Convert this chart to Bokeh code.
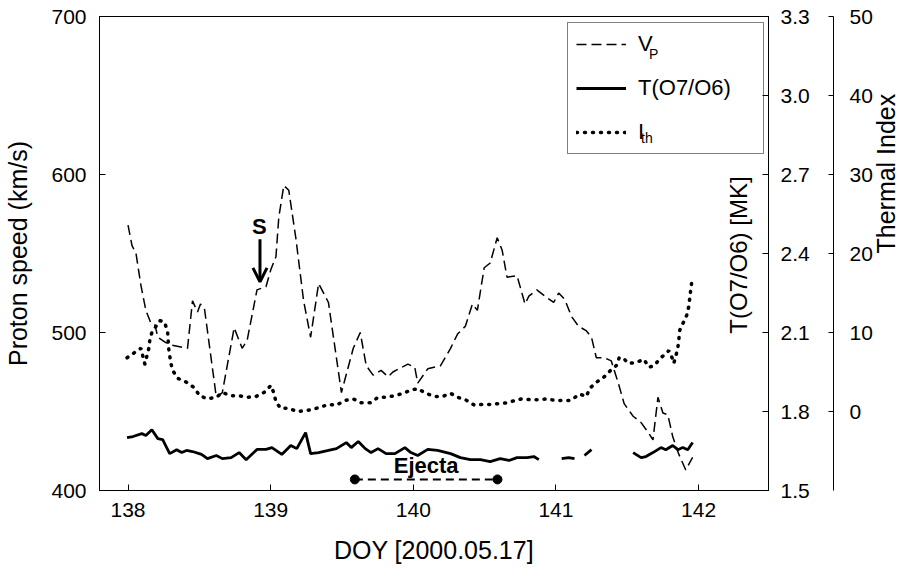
import math
from bokeh.plotting import figure
from bokeh.models import (Range1d, LinearAxis, FixedTicker, Legend, LegendItem,
                          Label, Arrow, OpenHead, PrintfTickFormatter)
from bokeh.embed import file_html
from bokeh.resources import INLINE

nan = float("nan")

# ---------------- data ----------------
vp_doy = [138.000, 138.028, 138.056, 138.090, 138.125, 138.160, 138.188, 138.209, 138.257, 138.306,
          138.417, 138.452, 138.487, 138.508, 138.536, 138.619, 138.661, 138.744, 138.800, 138.835,
          138.904, 138.967, 139.002, 139.037, 139.057, 139.092, 139.127, 139.176, 139.231, 139.280,
          139.336, 139.405, 139.496, 139.579, 139.628, 139.670, 139.718, 139.774, 139.823, 139.857,
          139.962, 140.010, 140.031, 140.101, 140.191, 140.261, 140.310, 140.365, 140.414, 140.449,
          140.497, 140.539, 140.588, 140.623, 140.657, 140.727, 140.783, 140.810, 140.866, 140.922,
          140.984, 141.019, 141.061, 141.110, 141.158, 141.214, 141.249, 141.283, 141.339, 141.388,
          141.437, 141.478, 141.541, 141.597, 141.652, 141.680, 141.715, 141.750, 141.784, 141.819,
          141.861, 141.910, 141.958]
vp_speed = [568, 555, 550, 530, 514, 506, 505, 497, 494, 492,
            490, 520, 513, 518, 515, 459, 462, 503, 490, 495,
            527, 529, 540, 548, 573, 593, 590, 560, 520, 497,
            531, 519, 462, 490, 500, 479, 473, 476, 472, 475,
            480, 478, 468, 477, 479, 490, 499, 504, 518, 514,
            541, 544, 560, 552, 535, 536, 518, 523, 527, 523,
            519, 525, 521, 510, 504, 501, 497, 484, 484, 482,
            468, 455, 447, 443, 436, 432, 459, 449, 448, 434,
            423, 413, 421]

t_doy = [137.993, 138.035, 138.097, 138.125, 138.167, 138.209, 138.243, 138.292, 138.341, 138.376,
         138.410, 138.452, 138.515, 138.557, 138.619, 138.661, 138.723, 138.779, 138.828, 138.904,
         138.967, 139.009, 139.078, 139.141, 139.183, 139.245, 139.280, 139.336, 139.405, 139.461,
         139.530, 139.565, 139.614, 139.663, 139.704, 139.753, 139.809, 139.871, 139.941, 139.983,
         140.031, 140.101, 140.170, 140.261, 140.330, 140.400, 140.470, 140.539, 140.609, 140.671,
         140.727, 140.797, 140.845, 140.880, 140.960, 141.040, 141.089, 141.130, 141.165, 141.200,
         141.249, 141.400, 141.541, 141.597, 141.631, 141.680, 141.736, 141.770, 141.819, 141.854,
         141.889, 141.924, 141.958]
t_oxygen = [1.701, 1.705, 1.716, 1.709, 1.731, 1.697, 1.693, 1.640, 1.655, 1.644,
            1.652, 1.648, 1.637, 1.621, 1.633, 1.621, 1.625, 1.644, 1.617, 1.656,
            1.656, 1.663, 1.637, 1.671, 1.659, 1.720, 1.640, 1.644, 1.652, 1.659,
            1.682, 1.663, 1.686, 1.659, 1.644, 1.659, 1.640, 1.640, 1.663, 1.644,
            1.633, 1.656, 1.652, 1.640, 1.625, 1.617, 1.617, 1.610, 1.621, 1.614,
            1.625, 1.625, 1.629, 1.617, nan, 1.621, 1.625, 1.621, nan, 1.633,
            1.655, nan, 1.644, 1.625, 1.629, 1.644, 1.663, 1.655, 1.671, 1.655,
            1.663, 1.655, 1.682]

ith_doy = [137.993, 138.049, 138.090, 138.104, 138.118, 138.146, 138.153, 138.167, 138.223, 138.257,
           138.278, 138.285, 138.299, 138.313, 138.348, 138.410, 138.466, 138.501, 138.557, 138.619,
           138.661, 138.723, 138.779, 138.835, 138.897, 138.953, 139.002, 139.023, 139.037, 139.071,
           139.127, 139.183, 139.245, 139.301, 139.357, 139.405, 139.461, 139.523, 139.579, 139.635,
           139.697, 139.753, 139.809, 139.871, 139.927, 139.983, 140.031, 140.087, 140.150, 140.205,
           140.261, 140.310, 140.365, 140.428, 140.483, 140.539, 140.602, 140.657, 140.713, 140.762,
           140.817, 140.880, 140.936, 140.991, 141.047, 141.103, 141.165, 141.214, 141.235, 141.283,
           141.339, 141.388, 141.423, 141.443, 141.471, 141.506, 141.562, 141.617, 141.652, 141.687,
           141.736, 141.791, 141.819, 141.826, 141.840, 141.854, 141.861, 141.868, 141.889, 141.917,
           141.930, 141.937, 141.944, 141.951]
ith_index = [6.8, 7.5, 8.0, 7.0, 6.0, 8.0, 9.1, 10.0, 11.5, 11.3,
             10.0, 8.0, 6.2, 5.2, 4.2, 3.7, 3.0, 2.0, 1.6, 1.8,
             2.4, 2.0, 2.0, 1.8, 1.9, 2.4, 3.3, 2.3, 1.2, 0.4,
             0.4, 0.0, 0.1, 0.3, 0.6, 0.9, 0.8, 1.4, 1.6, 1.1,
             1.1, 1.8, 1.8, 2.0, 2.3, 2.7, 2.9, 2.3, 1.9, 1.9,
             2.3, 1.8, 1.5, 0.8, 0.9, 0.9, 1.0, 1.1, 1.4, 1.6,
             1.5, 1.5, 1.6, 1.4, 1.4, 1.4, 2.2, 1.9, 2.9, 3.7,
             4.4, 5.3, 5.8, 6.8, 6.8, 6.1, 6.2, 6.6, 5.6, 5.8,
             6.8, 7.7, 6.6, 6.1, 7.0, 8.0, 9.1, 10.3, 11.1, 12.2,
             13.2, 14.2, 15.3, 16.3]

x_ticks = [138, 139, 140, 141, 142]
speed_ticks = [400, 500, 600, 700]
temp_ticks = [1.5, 1.8, 2.1, 2.4, 2.7, 3.0, 3.3]
thermal_ticks = [0, 10, 20, 30, 40, 50]

ejecta_start = 139.59
ejecta_end = 140.59
ejecta_level = 407
shock_doy = 138.925
shock_from = 559
shock_to = 532

FONT = "Liberation Sans"

# ---------------- figure ----------------
p = figure(width=916, height=578, x_range=Range1d(137.8, 142.49), y_range=Range1d(400, 700),
           output_backend="svg", toolbar_location=None,
           min_border_left=99, min_border_right=143, min_border_top=16, min_border_bottom=88)
p.extra_y_ranges = {"temp": Range1d(1.5, 3.3), "thermal": Range1d(-10, 50)}
p.xgrid.visible = False
p.ygrid.visible = False
p.outline_line_color = "black"
p.outline_line_width = 1
p.background_fill_color = "white"
p.border_fill_color = "white"

def style_axis(ax, tick_size="21px"):
    ax.major_tick_in = 6
    ax.major_tick_out = 0
    ax.minor_tick_line_color = None
    ax.axis_line_color = "black"
    ax.major_tick_line_color = "black"
    ax.major_label_text_font = FONT
    ax.major_label_text_font_size = tick_size
    ax.major_label_text_color = "black"
    ax.axis_label_text_font = FONT
    ax.axis_label_text_font_style = "normal"
    ax.axis_label_text_font_size = "25px"
    ax.axis_label_text_color = "black"

p.xaxis.ticker = FixedTicker(ticks=x_ticks)
p.xaxis.axis_label = "DOY [2000.05.17]"
style_axis(p.xaxis[0])
p.xaxis.major_label_standoff = 12
p.xaxis.axis_label_standoff = 16

p.yaxis.ticker = FixedTicker(ticks=speed_ticks)
p.yaxis.axis_label = "Proton speed (km/s)"
style_axis(p.yaxis[0])
p.yaxis.major_label_standoff = 13
p.yaxis.axis_label_standoff = 16

temp_axis = LinearAxis(y_range_name="temp", ticker=FixedTicker(ticks=temp_ticks),
                       formatter=PrintfTickFormatter(format="%.1f"))
style_axis(temp_axis)
temp_axis.major_label_standoff = 12
temp_axis.axis_label = " "
temp_axis.axis_label_text_font_size = "12px"
temp_axis.axis_label_standoff = 4
p.add_layout(temp_axis, "right")

thermal_axis = LinearAxis(y_range_name="thermal", ticker=FixedTicker(ticks=thermal_ticks),
                          axis_label="Thermal Index")
style_axis(thermal_axis)
thermal_axis.major_tick_in = 5
thermal_axis.major_label_standoff = 16
thermal_axis.axis_label_standoff = 10
thermal_axis.axis_label_orientation = math.pi / 2
p.add_layout(thermal_axis, "right")

# ---------------- series ----------------
r_vp = p.line(vp_doy, vp_speed, line_color="black", line_width=1.5, line_dash="10 5")
r_t = p.line(t_doy, t_oxygen, y_range_name="temp", line_color="black", line_width=2.8)
r_ith = p.line(ith_doy, ith_index, y_range_name="thermal", line_color="black", line_width=3.5,
               line_dash="1 7", line_cap="round")

# Ejecta interval
p.line([ejecta_start, ejecta_end], [ejecta_level, ejecta_level], line_color="black",
       line_width=2, line_dash="8 5")
p.scatter([ejecta_start, ejecta_end], [ejecta_level, ejecta_level], size=9, color="black")
p.add_layout(Label(x=(ejecta_start + ejecta_end) / 2, y=ejecta_level + 9, text="Ejecta",
                   text_font=FONT, text_font_size="22px", text_font_style="bold",
                   text_align="center", text_baseline="middle", text_color="black"))

# Shock arrow
p.add_layout(Arrow(end=OpenHead(size=14, line_width=3, line_color="black"),
                   x_start=shock_doy, y_start=shock_from, x_end=shock_doy, y_end=shock_to,
                   line_width=3, line_color="black"))
p.add_layout(Label(x=shock_doy - 0.005, y=shock_from + 8, text="S", text_font=FONT,
                   text_font_size="22px", text_font_style="bold", text_align="center",
                   text_baseline="middle", text_color="black"))

# T axis title drawn inside the frame
p.add_layout(Label(x=142.28, y=549, text="T(O7/O6) [MK]", angle=math.pi / 2,
                   text_font=FONT, text_font_size="24px", text_align="center",
                   text_baseline="middle", text_color="black"))

# ---------------- legend ----------------
legend = Legend(items=[LegendItem(label="V", renderers=[r_vp]),
                       LegendItem(label="T(O7/O6)", renderers=[r_t]),
                       LegendItem(label="I", renderers=[r_ith])],
                location=(468, 336))
legend.border_line_color = "black"
legend.border_line_width = 1
legend.background_fill_alpha = 0
legend.padding = 8
legend.spacing = 18
legend.margin = 0
legend.glyph_width = 50
legend.glyph_height = 20
legend.label_height = 20
legend.label_width = 117
legend.label_standoff = 12
legend.label_text_font = FONT
legend.label_text_font_size = "22px"
legend.label_text_color = "black"
p.add_layout(legend)

# subscripts in legend labels
p.add_layout(Label(x=141.652, y=676.0, text="P", text_font=FONT, text_font_size="14px",
                   text_align="left", text_baseline="middle", text_color="black"))
p.add_layout(Label(x=141.597, y=623.0, text="th", text_font=FONT, text_font_size="14px",
                   text_align="left", text_baseline="middle", text_color="black"))

open("out.html", "w").write(file_html(p, INLINE))
